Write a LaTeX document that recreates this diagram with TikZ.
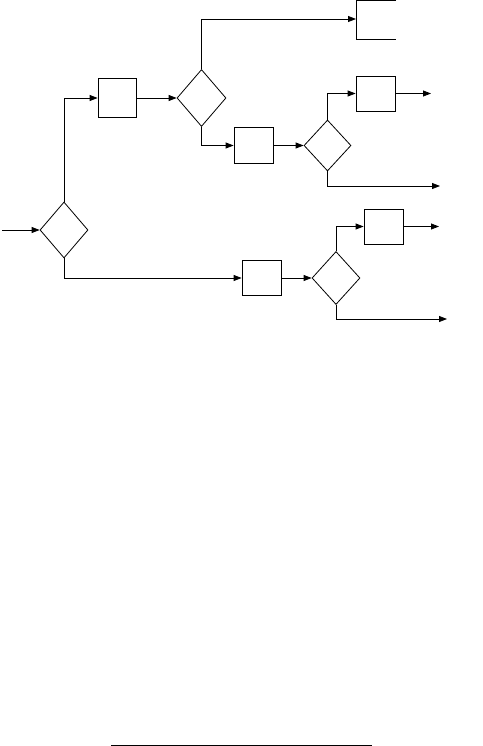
\documentclass[tikz,border=0pt]{standalone}
\usetikzlibrary{arrows.meta,shapes.geometric}
\begin{document}
\begin{tikzpicture}[x=1pt,y=-1pt,line width=0.8pt,
  >={Triangle[length=8pt,width=6pt]},
  box/.style={draw,rectangle,inner sep=0pt,minimum width=39pt,minimum height=36pt},
  dia/.style={draw,diamond,inner sep=0pt,minimum width=48pt,minimum height=55pt}]
\useasboundingbox (0,0) rectangle (482,746);
% nodes
\node[dia,minimum height=56pt] (d1) at (64,230) {};
\node[box,minimum width=38pt,minimum height=39pt] (b1) at (117,98) {};
\node[dia,minimum width=49pt,minimum height=57pt] (d2) at (201.5,98) {};
\node[box] (b2) at (253.5,145.5) {};
\node[dia,minimum width=47pt,minimum height=51pt] (d3) at (327.5,145.5) {};
\node[box,minimum height=35pt] (b3) at (375.5,93.5) {};
\node[box,minimum height=35pt] (b4) at (261.5,278) {};
\node[dia,minimum height=53pt] (d4) at (336,278) {};
\node[box,minimum height=35pt] (b5) at (383.5,226.5) {};
% top-right open box
\coordinate (tbA) at (396,0.5);
\coordinate (tbB) at (356,0.5);
\coordinate (tbC) at (356,39);
\coordinate (tbD) at (396,39);
\coordinate (tb) at (356,19);
\draw (tbA) -- (tbB) -- (tbC) -- (tbD);
% free ends
\coordinate (in) at (2,230);
\coordinate (o3) at (431,93.5);
\coordinate (e3) at (440,186);
\coordinate (o5) at (439,226.5);
\coordinate (e4) at (447,319);
\coordinate (bl) at (111,745);
\coordinate (br) at (372,745);
% connectors
\draw[->] (in) -- (d1.west);
\draw[->] (d1.north) |- (b1.west);
\draw[->] (b1.east) -- (d2.west);
\draw[->] (d2.north) |- (tb);
\draw[->] (d2.south) |- (b2.west);
\draw[->] (b2.east) -- (d3.west);
\draw[->] (d3.north) |- (b3.west);
\draw[->] (b3.east) -- (o3);
\draw[->] (d3.south) |- (e3);
\draw[->] (d1.south) |- (b4.west);
\draw[->] (b4.east) -- (d4.west);
\draw[->] (d4.north) |- (b5.west);
\draw[->] (b5.east) -- (o5);
\draw[->] (d4.south) |- (e4);
\draw (bl) -- (br);
\end{tikzpicture}
\end{document}
